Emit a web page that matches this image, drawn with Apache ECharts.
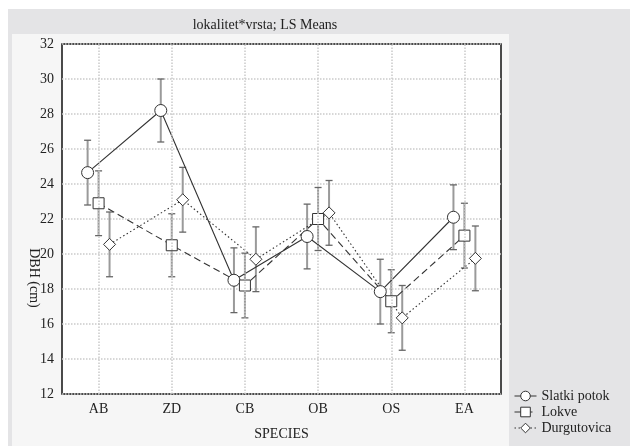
<!DOCTYPE html>
<html>
<head>
<meta charset="utf-8">
<script src="https://cdn.jsdelivr.net/npm/echarts@6/dist/echarts.min.js"></script>
<style>
  html, body { margin: 0; padding: 0; background: #fff; }
  #chart { width: 630px; height: 446px; }
</style>
</head>
<body>
<div id="chart"></div>
<script>
// species on the x axis
var categories = ['AB', 'ZD', 'CB', 'OB', 'OS', 'EA'];
var seriesNames = ['Slatki potok', 'Lokve', 'Durgutovica'];

// LS means of DBH (cm)
var slatkiMeans = [24.65, 28.2, 18.5, 21.0, 17.85, 22.1];
var lokveMeans = [22.9, 20.5, 18.2, 22.0, 17.3, 21.05];
var durgMeans = [20.55, 23.1, 19.7, 22.35, 16.35, 19.75];

// half length of the error bars
var slatkiErr = [1.85, 1.8, 1.85, 1.85, 1.85, 1.85];
var lokveErr = [1.85, 1.8, 1.85, 1.8, 1.8, 1.85];
var durgErr = [1.85, 1.85, 1.85, 1.85, 1.85, 1.85];

var yTicks = [12, 14, 16, 18, 20, 22, 24, 26, 28, 30, 32];

var FONT = '"Liberation Serif", "DejaVu Serif", serif';
var shifts = [-0.15, 0, 0.15];
var symbols = ['circle', 'rect', 'diamond'];
var symbolSizes = [12, 11, 12];
var lineTypes = ['solid', [7, 4], [1.5, 2.5]];

var chart = echarts.init(document.getElementById('chart'));

function points(means, k){
    return means.map(function(v, i){ return [i + shifts[k], v]; });
}
function bars(means, errs, k){
    return means.map(function(v, i){ return [i + shifts[k], v - errs[i], v + errs[i]]; });
}

function renderBar(params, api){
    var x = api.value(0);
    var lo = api.coord([x, api.value(1)]);
    var hi = api.coord([x, api.value(2)]);
    var cap = 3.5;
    return {
        type: 'group',
        children: [
            { type: 'line', shape: { x1: lo[0], y1: lo[1], x2: hi[0], y2: hi[1] },
              style: { stroke: '#9a9a9a', lineWidth: 2 } },
            { type: 'line', shape: { x1: lo[0] - cap, y1: lo[1], x2: lo[0] + cap, y2: lo[1] },
              style: { stroke: '#666', lineWidth: 1.3 } },
            { type: 'line', shape: { x1: hi[0] - cap, y1: hi[1], x2: hi[0] + cap, y2: hi[1] },
              style: { stroke: '#666', lineWidth: 1.3 } }
        ]
    };
}

var allMeans = [slatkiMeans, lokveMeans, durgMeans];
var allErr = [slatkiErr, lokveErr, durgErr];

var series = [];
allMeans.forEach(function(m, k){
    series.push({
        type: 'custom',
        xAxisIndex: 1,
        renderItem: renderBar,
        data: bars(m, allErr[k], k),
        z: 2,
        silent: true
    });
});
allMeans.forEach(function(m, k){
    var s = {
        type: 'line',
        name: seriesNames[k],
        xAxisIndex: 1,
        data: points(m, k),
        symbol: symbols[k],
        symbolSize: symbolSizes[k],
        showAllSymbol: true,
        itemStyle: { color: '#fff', borderColor: '#333', borderWidth: 1 },
        lineStyle: { color: '#333', width: 1.1, type: lineTypes[k] },
        z: 3,
        animation: false
    };
    if (k === 0) {
        // vertical dotted grid lines at the category centres
        s.markLine = {
            silent: true,
            symbol: ['none', 'none'],
            label: { show: false },
            lineStyle: { color: '#cacaca', type: [1.5, 1.5], width: 1.5 },
            data: categories.map(function(c, i){ return { xAxis: i }; })
        };
    }
    series.push(s);
});

chart.setOption({
    backgroundColor: '#fff',
    animation: false,
    graphic: [
        { type: 'rect', z: -10, shape: { x: 8, y: 9, width: 622, height: 437 }, style: { fill: '#e4e4e6' } },
        { type: 'rect', z: -9, shape: { x: 12, y: 34, width: 497, height: 412 }, style: { fill: '#f6f6f6' } },
        { type: 'text', z: 5, x: 34, y: 278, rotation: -Math.PI / 2,
          style: { text: 'DBH (cm)', font: '14px ' + FONT, fill: '#222', align: 'center', verticalAlign: 'middle' } }
    ],
    title: {
        text: 'lokalitet*vrsta; LS Means',
        left: 260, top: 13, textAlign: 'center',
        textStyle: { fontFamily: FONT, fontSize: 14, fontWeight: 'normal', color: '#222' }
    },
    legend: {
        data: seriesNames.map(function(n, k){
            return {
                name: n,
                itemStyle: { color: '#fff', borderColor: '#333', borderWidth: 1 },
                lineStyle: { color: '#333', width: 1, type: lineTypes[k] }
            };
        }),
        orient: 'vertical',
        left: 509, top: 384,
        itemWidth: 22, itemHeight: 12, itemGap: 2,
        textStyle: { fontFamily: FONT, fontSize: 14, color: '#222' }
    },
    grid: {
        left: 62, top: 44, right: 129, bottom: 49,
        show: true, backgroundColor: '#fff', borderColor: '#111', borderWidth: 1.5
    },
    xAxis: [{
        type: 'category',
        data: categories,
        axisLine: { show: false },
        axisTick: { show: false },
        splitLine: { show: false },
        axisLabel: { margin: 8, fontFamily: FONT, fontSize: 14, color: '#222' },
        name: 'SPECIES',
        nameLocation: 'middle',
        nameGap: 33,
        nameTextStyle: { fontFamily: FONT, fontSize: 14, color: '#222' }
    }, {
        type: 'value',
        min: -0.5, max: 5.5,
        show: false
    }],
    yAxis: {
        type: 'value',
        min: yTicks[0], max: yTicks[yTicks.length - 1], interval: yTicks[1] - yTicks[0],
        axisLine: { show: false },
        axisTick: { show: false },
        axisLabel: { margin: 8, fontFamily: FONT, fontSize: 14, color: '#222' },
        splitLine: { lineStyle: { color: '#cacaca', type: [1.5, 1.5], width: 1.5 } }
    },
    series: series
});
</script>
</body>
</html>
